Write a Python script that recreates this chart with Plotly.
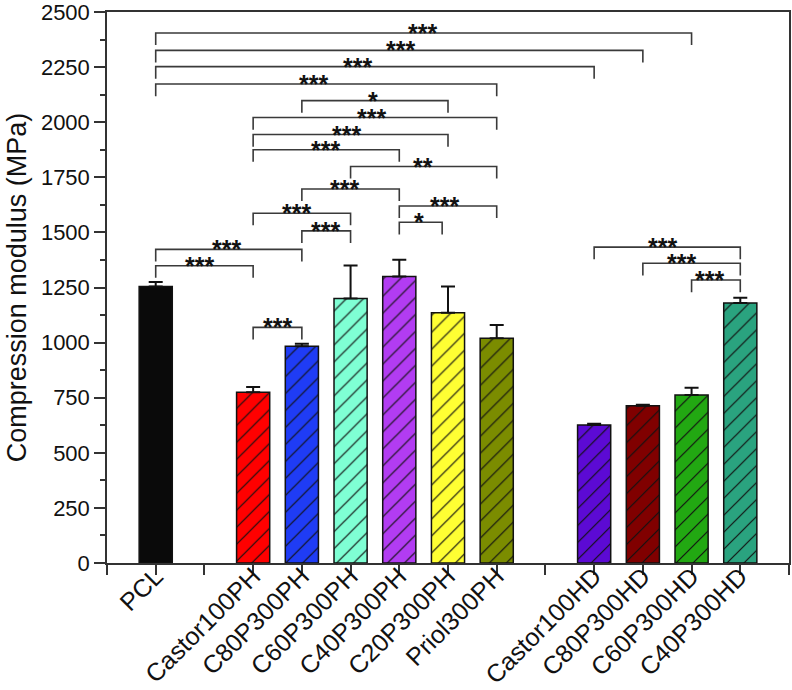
import plotly.graph_objects as go

# ---- data ----
categories = ["PCL", "Castor100PH", "C80P300PH", "C60P300PH", "C40P300PH", "C20P300PH",
              "Priol300PH", "Castor100HD", "C80P300HD", "C60P300HD", "C40P300HD"]
positions = [0, 2, 3, 4, 5, 6, 7, 9, 10, 11, 12]
modulus = [1255, 775, 983, 1200, 1300, 1135, 1020, 626, 714, 762, 1180]
errors = [20, 23, 12, 150, 76, 120, 60, 6, 4, 33, 23]
bar_colors = ["#0a0a0a", "#ff0000", "#1f3cf5", "#7fffd4", "#b23cf2", "#ffff33",
              "#7b8c00", "#5c0ad4", "#800000", "#22a812", "#2aa37f"]
patterns = ["", "/", "/", "/", "/", "/", "/", "/", "/", "/", "/"]

# significance brackets: (left x, right x, level, label, label x)
brackets = [
    (0, 11, 2405, "***", 5.48),
    (0, 10, 2326, "***", 5.03),
    (0, 9, 2252, "***", 4.14),
    (0, 7, 2173, "***", 3.24),
    (3, 6, 2098, "*", 4.47),
    (2, 7, 2021, "***", 4.43),
    (2, 6, 1944, "***", 3.92),
    (2, 5, 1875, "***", 3.48),
    (4, 7, 1799, "**", 5.48),
    (3, 5, 1697, "***", 3.88),
    (2, 4, 1587, "***", 2.90),
    (3, 4, 1507, "***", 3.48),
    (5, 7, 1620, "***", 5.93),
    (5, 5.88, 1546, "*", 5.40),
    (0, 3, 1423, "***", 1.45),
    (0, 2, 1349, "***", 0.90),
    (2, 3, 1069, "***", 2.50),
    (9, 12, 1433, "***", 10.40),
    (10, 12, 1360, "***", 10.80),
    (11, 12, 1284, "***", 11.37),
]
drop = 55

FONT = "Liberation Sans, Arial, sans-serif"

fig = go.Figure()
for p, v, e, col, pat in zip(positions, modulus, errors, bar_colors, patterns):
    fig.add_trace(go.Bar(
        x=[p], y=[v], width=0.68,
        marker=dict(color=col,
                    line=dict(color="#111111", width=1.5),
                    pattern=dict(shape=pat, fgcolor="#111111", fgopacity=1,
                                 fillmode="overlay", size=12, solidity=0.1)),
        error_y=dict(type="data", symmetric=False, array=[e], arrayminus=[0],
                     color="#111111", thickness=2, width=7),
        showlegend=False, hoverinfo="skip",
    ))

bx, by = [], []
for l, r, lev, lab, tx in brackets:
    bx += [l, l, r, r, None]
    by += [lev - drop, lev, lev, lev - drop, None]
fig.add_trace(go.Scatter(x=bx, y=by, mode="lines",
                         line=dict(color="#3a3a3a", width=1.6),
                         showlegend=False, hoverinfo="skip"))

for l, r, lev, lab, tx in brackets:
    fig.add_annotation(x=tx, y=lev, text="<b>" + lab + "</b>", showarrow=False,
                       xanchor="center", yanchor="middle",
                       font=dict(family=FONT, size=25, color="#111111"))

fig.update_layout(
    width=792, height=690,
    margin=dict(l=107, r=3, t=12, b=127),
    plot_bgcolor="white", paper_bgcolor="white",
    font=dict(family=FONT, color="#111111"),
    barmode="overlay",
)
fig.update_xaxes(
    range=[-1, 13], tickmode="array", tickvals=positions, ticktext=categories,
    tickangle=-45, tickfont=dict(size=25, family=FONT, color="#111111"),
    ticklabelstandoff=-23, ticklabeloverflow="allow",
    ticks="outside", ticklen=10, tickwidth=1.5, tickcolor="#333333",
    minor=dict(tickmode="linear", tick0=-1, dtick=1, ticks="outside", ticklen=10,
               tickwidth=1.5, tickcolor="#333333"),
    showline=True, linecolor="#333333", linewidth=1.5, mirror=True,
    showgrid=False, zeroline=False, automargin=False,
)
fig.update_yaxes(
    range=[0, 2500], tickmode="array", tickvals=list(range(0, 2501, 250)),
    tickfont=dict(size=22, family=FONT, color="#111111"),
    ticklabeloverflow="allow",
    ticks="outside", ticklen=11, tickwidth=1.5, tickcolor="#333333",
    minor=dict(dtick=125, ticks="outside", ticklen=5, tickwidth=1.5, tickcolor="#333333"),
    showline=True, linecolor="#333333", linewidth=1.5, mirror=True,
    showgrid=False, zeroline=False, automargin=False,
    title=dict(text="Compression modulus (MPa)", standoff=6,
               font=dict(size=27, family=FONT, color="#111111")),
)

fig.write_html("out.html", config={"displayModeBar": False},
               post_script="document.body.style.margin='0';document.body.style.overflow='hidden';")
